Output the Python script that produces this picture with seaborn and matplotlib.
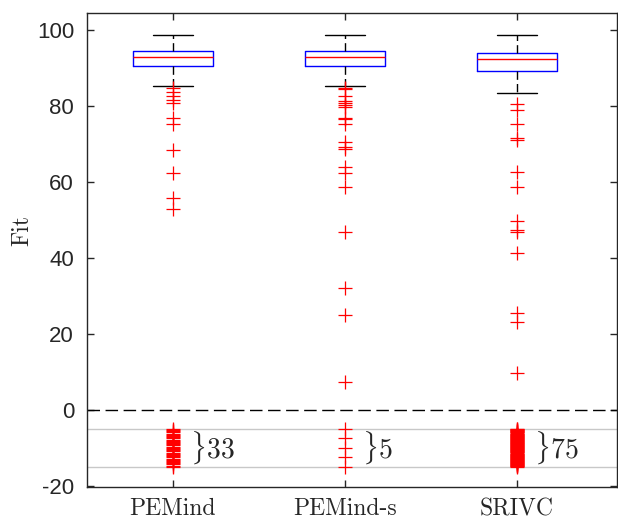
import numpy as np
import pandas as pd
import matplotlib
matplotlib.use('Agg')
import matplotlib.pyplot as plt
import seaborn as sns

# Datos
methods = ['PEMind', 'PEMind-s', 'SRIVC']
q1 = [90.7, 90.7, 89.3]
medians = [92.9, 93.0, 92.3]
q3 = [94.6, 94.6, 94.1]
whisk_lo = [85.3, 85.3, 83.5]
whisk_hi = [98.7, 98.7, 98.8]

out_pemind = [84.7, 83.6, 82.6, 81.5, 80.7, 77.0, 75.2, 68.4, 62.3, 55.9, 52.8]
out_pemind_s = [84.9, 84.4, 82.6, 81.4, 80.9, 80.3, 79.8, 77.0, 76.5, 75.2,
                70.6, 69.3, 68.6, 64.0, 62.4, 58.8, 46.9, 32.0, 24.9, 7.4]
out_srivc = [80.5, 78.9, 75.3, 71.5, 71.1, 62.7, 58.8, 49.8, 47.5, 46.9,
             41.2, 25.4, 23.2, 9.7]

# Numero de casos fuera de rango (dibujados en la franja -5 .. -15)
below_counts = [33, 5, 75]
band_top, band_bottom = -5, -15

sns.set_style('ticks')
plt.rcParams['axes.unicode_minus'] = False
plt.rcParams['mathtext.fontset'] = 'cm'

fig = plt.figure(figsize=(6.18, 5.2), dpi=100)
ax = fig.add_axes([0.140, 0.0635, 0.858, 0.912])

positions = np.arange(len(methods))

# Cajas (estadisticas ya resumidas)
stats = []
for i, m in enumerate(methods):
    stats.append(dict(label=m, q1=q1[i], med=medians[i], q3=q3[i],
                      whislo=whisk_lo[i], whishi=whisk_hi[i], fliers=[]))
ax.bxp(stats, positions=positions, widths=0.464, showfliers=False,
       boxprops=dict(color='blue', linewidth=1.0),
       medianprops=dict(color='red', linewidth=1.0),
       whiskerprops=dict(color='black', linewidth=1.0, linestyle=(0, (6, 3))),
       capprops=dict(color='black', linewidth=1.0), zorder=3)

# Outliers y franja de conteo
rows = []
for i, vals in enumerate([out_pemind, out_pemind_s, out_srivc]):
    for v in vals:
        rows.append((positions[i], v))
    for v in np.linspace(band_top, band_bottom, below_counts[i]):
        rows.append((positions[i], v))
df = pd.DataFrame(rows, columns=['pos', 'fit'])
sns.scatterplot(data=df, x='pos', y='fit', marker='+', s=100, color='red',
                linewidth=0.9, ax=ax, zorder=4, legend=False)

# Lineas de referencia
ax.axhline(0, color='black', linewidth=1.0, linestyle=(0, (9, 4)), zorder=2)
ax.axhline(band_top, color='#c8c8c8', linewidth=1.0, zorder=1)
ax.axhline(band_bottom, color='#c8c8c8', linewidth=1.0, zorder=1)

for i, n in enumerate(below_counts):
    ax.text(positions[i] + 0.1, (band_top + band_bottom) / 2, r'$\}$' + f'${n}$',
            fontsize=20, ha='left', va='center')

ax.set_xlim(-0.5, 2.58)
ax.set_ylim(-20.3, 104.6)
ax.set_xticks(positions)
ax.set_xticklabels(methods, fontfamily='cmr10', fontsize=17)
ax.set_yticks(range(-20, 101, 20))
ax.set_yticklabels([str(t) for t in range(-20, 101, 20)],
                   fontfamily='Liberation Sans', fontsize=16, color='#262626')
ax.set_xlabel('')
ax.set_ylabel('Fit', fontfamily='cmr10', fontsize=17)
ax.yaxis.label.set_va('center')
ax.yaxis.set_label_coords(-0.122, 0.54)

ax.tick_params(direction='in', length=5, width=1.0, color='#262626',
               top=True, right=True, labelcolor='#262626')
ax.tick_params(axis='y', pad=9)
ax.tick_params(axis='x', pad=8)
for s in ax.spines.values():
    s.set_visible(True)
    s.set_color('#262626')
    s.set_linewidth(1.0)

fig.savefig('out.png', dpi=100)
